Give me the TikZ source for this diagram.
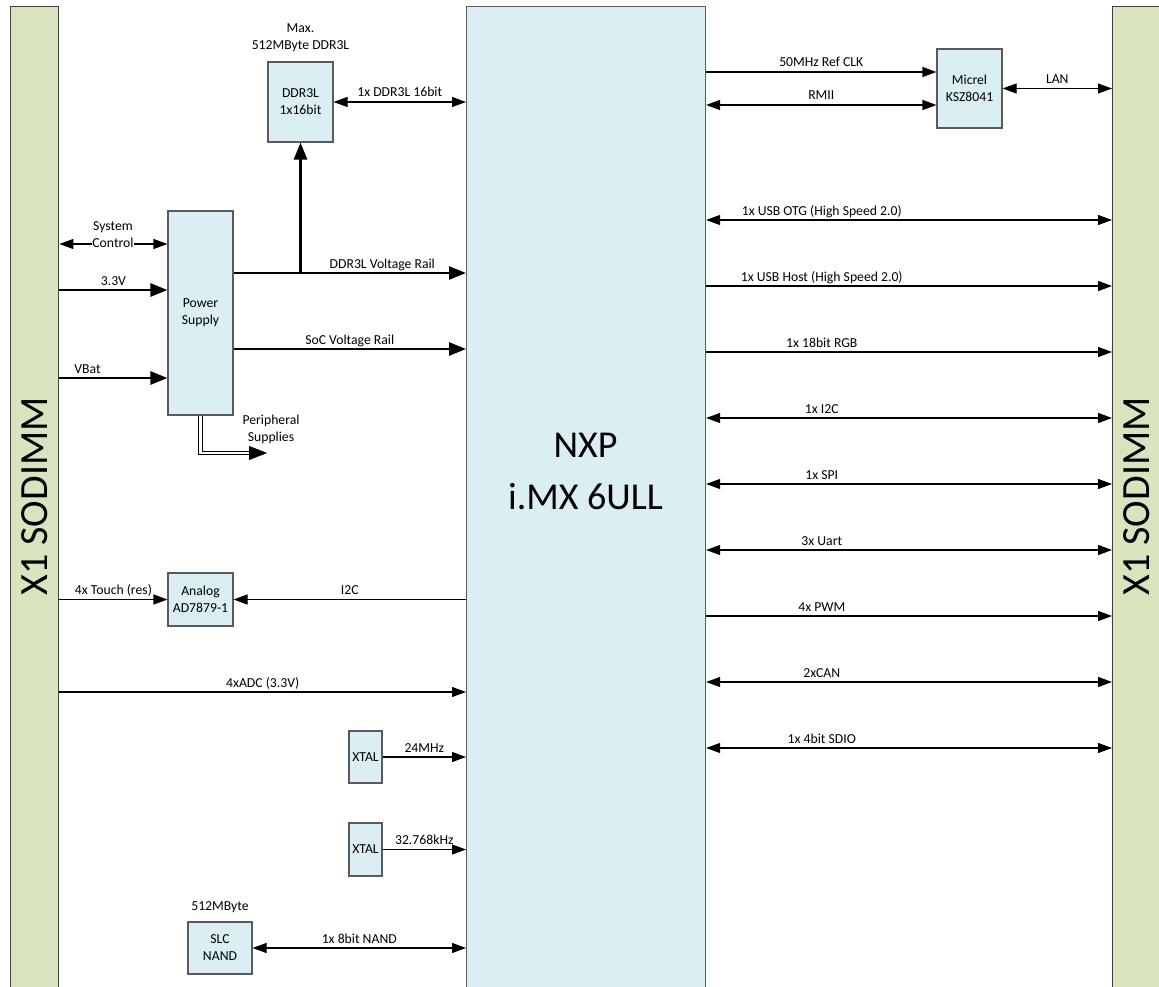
\documentclass[tikz,border=0pt]{standalone}
\usepackage{fontspec}
\setmainfont{Carlito}
\usepackage{xcolor}
\usetikzlibrary{arrows.meta,positioning}

\definecolor{socblue}{HTML}{DAEEF3}
\definecolor{dimmgreen}{HTML}{D7E4BD}
\definecolor{edgegray}{HTML}{404040}
\definecolor{boxgray}{HTML}{5A5A5A}
\newcommand{\lblfont}{\fontsize{13.7}{17}\selectfont}
\newcommand{\bigfont}{\fontsize{40}{52}\selectfont}

\begin{document}
\begin{tikzpicture}[x=1pt,y=-1pt,
  blk/.style={draw=boxgray, fill=socblue, line width=1.1pt, align=center, font=\lblfont, inner sep=0pt},
  dimm/.style={draw=edgegray, fill=dimmgreen, line width=1.4pt, anchor=north west, minimum width=48pt, minimum height=1000pt},
  txt/.style={font=\lblfont, inner sep=0pt},
  lbl/.style={txt, anchor=base, yshift=5pt},
  sig/.style={line width=1.1pt, -{Triangle[length=14pt,width=10pt]}},
  sigboth/.style={line width=1.1pt, {Triangle[length=14pt,width=10pt]}-{Triangle[length=14pt,width=10pt]}},
  pwr/.style={line width=2.7pt, -{Triangle[length=17pt,width=13pt]}}]
  \useasboundingbox (0,0) rectangle (1159,987);
  \clip (0,0) rectangle (1159,987);
  \fill[white] (0,0) rectangle (1159,987);

  % SODIMM edges and the SoC
  \node[dimm] (dimmL) at (10,6) {};
  \node[dimm, minimum width=60pt] (dimmR) at (1112,6) {};
  \node[font=\bigfont, rotate=90, inner sep=0pt] (dimmLtxt) at (35,496.5) {X1 SODIMM};
  \node[font=\bigfont, rotate=90, inner sep=0pt] (dimmRtxt) at (1137,496.5) {X1 SODIMM};
  \node[blk, anchor=north west, minimum width=239pt, minimum height=1000pt] (soc) at (466,6) {};
  \node[font=\fontsize{38}{52}\selectfont, align=center, inner sep=0pt] (soctxt) at (585.5,471) {NXP\\i.MX 6ULL};

  % blocks
  \node[blk, minimum width=65pt, minimum height=80pt] (ddr) at (300.5,102) {DDR3L\\1x16bit};
  \node[txt, align=center, above=10pt of ddr] (ddrmax) {Max.\\512MByte DDR3L};
  \node[blk, minimum width=65pt, minimum height=204pt] (psu) at (200.5,313) {Power\\Supply};
  \node[blk, minimum width=65pt, minimum height=53pt] (adc) at (200.5,599.5) {Analog\\AD7879-1};
  \node[blk, minimum width=33pt, minimum height=52pt] (xtalA) at (365.5,757) {XTAL};
  \node[blk, minimum width=33pt, minimum height=53pt] (xtalB) at (365.5,849.5) {XTAL};
  \node[blk, minimum width=64pt, minimum height=52pt] (nand) at (220,948) {SLC\\NAND};
  \node[txt, above=9pt of nand] (nandsize) {512MByte};
  \node[blk, minimum width=65pt, minimum height=79pt] (phy) at (969.5,88.5) {Micrel\\KSZ8041};

  % rows
  \coordinate (ctlrow) at (0,244);
  \coordinate (railrow) at (0,273);
  \coordinate (v33row) at (0,290);
  \coordinate (socrow) at (0,349);
  \coordinate (vbatrow) at (0,378);
  \coordinate (adcrow) at (0,692);
  \coordinate (clkrow) at (0,72);
  \coordinate (rmiirow) at (0,105);
  \coordinate (perend) at (267,453);

  % memory
  \draw[sigboth] (ddr.east) -- (ddr.east -| soc.west) node[lbl, midway] {1x DDR3L 16bit};

  % power
  \draw[sigboth] (dimmL.east |- ctlrow) -- (psu.west |- ctlrow);
  \node[txt, align=center, fill=white, anchor=south] (ctltxt) at (113,248) {System\\Control};
  \draw[pwr] (dimmL.east |- v33row) -- (psu.west |- v33row) node[lbl, midway] {3.3V};
  \draw[pwr] (dimmL.east |- vbatrow) -- (psu.west |- vbatrow) node[lbl, pos=0.26] {VBat};
  \draw[pwr] (psu.east |- railrow) -- (soc.west |- railrow) node[lbl, pos=0.64] {DDR3L Voltage Rail};
  \draw[pwr] ([yshift=-1.3pt]ddr.south |- railrow) -- (ddr.south);
  \draw[pwr] (psu.east |- socrow) -- (soc.west |- socrow) node[lbl, midway] {SoC Voltage Rail};
  \draw[line width=1.2pt, double=white, double distance=2.2pt] (psu.south) |- ([xshift=-15pt]perend);
  \draw[-{Triangle[length=18pt,width=14pt]}] ([xshift=-18pt]perend) -- (perend);
  \node[txt, align=center, anchor=north] (pertxt) at (271,415) {Peripheral\\Supplies};

  % touch, adc, clocks, nand
  \draw[sig] (dimmL.east |- adc.west) -- (adc.west) node[lbl, midway] {4x Touch (res)};
  \draw[sig] (soc.west |- adc.east) -- (adc.east) node[lbl, midway] {I2C};
  \draw[sig] (dimmL.east |- adcrow) -- (soc.west |- adcrow) node[lbl, midway] {4xADC (3.3V)};
  \draw[sig] (xtalA.east) -- (xtalA.east -| soc.west) node[lbl, midway] {24MHz};
  \draw[sig] (xtalB.east) -- (xtalB.east -| soc.west) node[lbl, midway] {32.768kHz};
  \draw[sigboth] (nand.east) -- (nand.east -| soc.west) node[lbl, midway] {1x 8bit NAND};

  % ethernet
  \draw[sig] (soc.east |- clkrow) -- (phy.west |- clkrow) node[lbl, midway] {50MHz Ref CLK};
  \draw[sigboth] (soc.east |- rmiirow) -- (phy.west |- rmiirow) node[lbl, midway] {RMII};
  \draw[sigboth] (phy.east) -- (phy.east -| dimmR.west) node[lbl, midway] {LAN};

  % interfaces to the SODIMM
  \foreach \y/\kind/\txt in {220/sigboth/1x USB OTG (High Speed 2.0), 286/sig/1x USB Host (High Speed 2.0),
      352/sig/1x 18bit RGB, 418/sigboth/1x I2C, 484/sigboth/1x SPI, 550/sigboth/3x Uart,
      616/sig/4x PWM, 682/sigboth/2xCAN, 748/sigboth/1x 4bit SDIO}{
    \coordinate (busrow) at (0,\y);
    \draw[\kind] (soc.east |- busrow) -- (dimmR.west |- busrow) node[lbl, pos=0.285] {\txt};
  }
\end{tikzpicture}
\end{document}
